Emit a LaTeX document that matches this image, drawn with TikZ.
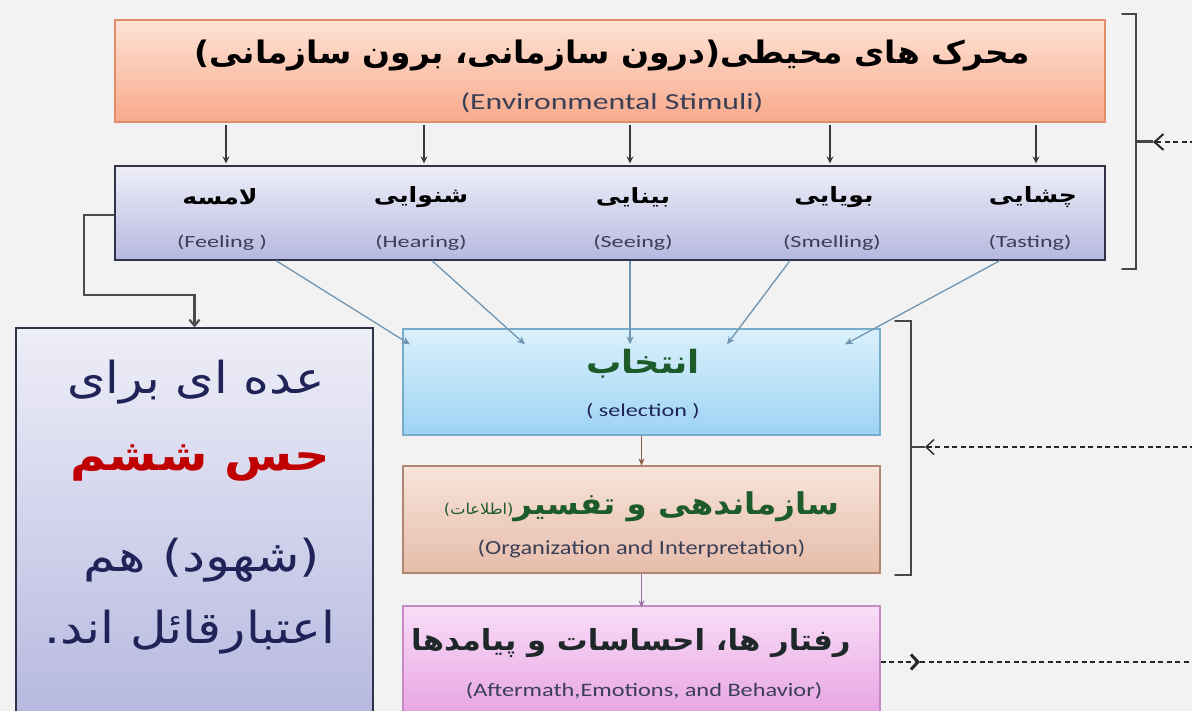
\documentclass[tikz,border=0pt]{standalone}
\usepackage{fontspec}
\usepackage{graphicx}
\setmainfont{Carlito}
\newfontfamily\ar[Script=Arabic]{DejaVu Sans}
\TeXXeTstate=1
\usetikzlibrary{arrows.meta,calc}
\definecolor{bgc}{HTML}{F2F2F2}
\definecolor{greentxt}{HTML}{1D5B2A}
\definecolor{navytxt}{HTML}{1F2357}
\definecolor{redtxt}{HTML}{C00000}
\definecolor{engtxt}{HTML}{3A3F55}
\definecolor{arrgray}{HTML}{3A3A3A}
\definecolor{arrblue}{HTML}{7195B0}
\definecolor{arrbrown}{HTML}{8A5A44}
\definecolor{arrpurple}{HTML}{A070A8}
\newcommand\sx[2]{\scalebox{#1}[1]{#2}}
\tikzset{
  box/.style={rectangle, inner sep=0pt, line width=1.2pt},
  envbox/.style={box, draw={rgb,255:red,228;green,139;blue,104}, top color={rgb,255:red,253;green,227;blue,214}, bottom color={rgb,255:red,248;green,169;blue,139}},
  sensebox/.style={box, draw={rgb,255:red,46;green,51;blue,72}, top color={rgb,255:red,238;green,238;blue,248}, bottom color={rgb,255:red,182;green,184;blue,224}},
  selbox/.style={box, draw={rgb,255:red,121;green,172;blue,203}, top color={rgb,255:red,218;green,241;blue,252}, bottom color={rgb,255:red,158;green,211;blue,244}},
  orgbox/.style={box, draw={rgb,255:red,179;green,133;blue,115}, top color={rgb,255:red,247;green,228;blue,218}, bottom color={rgb,255:red,230;green,188;blue,170}},
  behbox/.style={box, draw={rgb,255:red,197;green,138;blue,198}, top color={rgb,255:red,249;green,221;blue,247}, bottom color={rgb,255:red,231;green,163;blue,227}},
  txt/.style={inner sep=0pt, anchor=center},
  smallarrow/.style={draw=arrgray, line width=1.3pt, -{Stealth[length=7pt,width=7pt]}},
  bluearrow/.style={draw=arrblue, line width=1.3pt, -{Stealth[length=8pt,width=7pt]}},
  brk/.style={draw={rgb,255:red,70;green,70;blue,70}, line width=2pt, line cap=round},
  dsh/.style={draw={rgb,255:red,40;green,40;blue,40}, line width=1.5pt, dash pattern=on 5pt off 3.5pt},
}
\begin{document}
\begin{tikzpicture}[x=1pt,y=-1pt]
\useasboundingbox (0,0) rectangle (1192,711);
\fill[bgc] (0,0) rectangle (1192,711);
\clip (0,0) rectangle (1192,711);

% boxes
\node[envbox, minimum width=990pt, minimum height=102pt] (env) at (610,71) {};
\node[sensebox, minimum width=990pt, minimum height=94pt] (sens) at (610,213) {};
\node[sensebox, minimum width=357pt, minimum height=390pt] (lbox) at (194.5,523) {};
\node[selbox, minimum width=477pt, minimum height=106pt] (sel) at (641.5,382) {};
\node[orgbox, minimum width=477pt, minimum height=107pt] (org) at (641.5,519.5) {};
\node[behbox, minimum width=477pt, minimum height=112pt] (beh) at (641.5,662) {};

% texts in top box
\node[txt] (envar) at (612,56) {\sx{1.06}{\ar\bfseries\fontsize{31}{36}\selectfont\beginR محرک های محیطی(درون سازمانی، برون سازمانی)\endR}};
\node[txt, text=engtxt] (enven) at (612,103) {\sx{1.38}{\fontsize{23}{27}\selectfont (Environmental Stimuli)}};

% senses
\node[txt] (s1) at (220,197) {\sx{1.2}{\ar\bfseries\fontsize{21}{25}\selectfont\beginR لامسه\endR}};
\node[txt] (s2) at (421,197) {\sx{1.2}{\ar\bfseries\fontsize{21}{25}\selectfont\beginR شنوایی\endR}};
\node[txt] (s3) at (633,197) {\sx{1.2}{\ar\bfseries\fontsize{21}{25}\selectfont\beginR بینایی\endR}};
\node[txt] (s4) at (834,197) {\sx{1.2}{\ar\bfseries\fontsize{21}{25}\selectfont\beginR بویایی\endR}};
\node[txt] (s5) at (1033,197) {\sx{1.2}{\ar\bfseries\fontsize{21}{25}\selectfont\beginR چشایی\endR}};
\node[txt, text=engtxt] (e1) at (222,243) {\sx{1.42}{\fontsize{17}{20}\selectfont (Feeling )}};
\node[txt, text=engtxt] (e2) at (421,243) {\sx{1.42}{\fontsize{17}{20}\selectfont (Hearing)}};
\node[txt, text=engtxt] (e3) at (633,243) {\sx{1.42}{\fontsize{17}{20}\selectfont (Seeing)}};
\node[txt, text=engtxt] (e4) at (832,243) {\sx{1.42}{\fontsize{17}{20}\selectfont (Smelling)}};
\node[txt, text=engtxt] (e5) at (1030,243) {\sx{1.42}{\fontsize{17}{20}\selectfont (Tasting)}};

% selection / organization / behavior texts
\node[txt, text=greentxt] (selar) at (643,364) {\sx{1.1}{\ar\bfseries\fontsize{32}{37}\selectfont\beginR انتخاب\endR}};
\node[txt, text=navytxt] (selen) at (643,411) {\sx{1.34}{\fontsize{18}{21}\selectfont ( selection )}};
\node[txt, text=greentxt] (orgar) at (641.5,507) {\sx{1.08}{\ar\beginR{\bfseries\fontsize{30}{35}\selectfont سازماندهی و تفسیر}{\fontsize{15}{18}\selectfont (اطلاعات)}\endR}};
\node[txt, text=engtxt] (orgen) at (641.5,549) {\sx{1.22}{\fontsize{20}{24}\selectfont (Organization and Interpretation)}};
\node[txt, text={rgb,255:red,30;green,40;blue,40}] (behar) at (631,643) {\sx{1.06}{\ar\bfseries\fontsize{29}{34}\selectfont\beginR رفتار ها، احساسات و پیامدها\endR}};
\node[txt, text=engtxt] (behen) at (644,691) {\sx{1.28}{\fontsize{19}{23}\selectfont (Aftermath,Emotions, and Behavior)}};

% left box text
\node[txt, text=navytxt] (lb1) at (196,382) {\sx{1.12}{\ar\fontsize{44}{52}\selectfont\beginR عده ای برای\endR}};
\node[txt, text=redtxt] (lb2) at (200,463) {\sx{1.12}{\ar\bfseries\fontsize{44}{52}\selectfont\beginR حس ششم\endR}};
\node[txt, text=navytxt] (lb3) at (202,560) {\sx{1.18}{\ar\fontsize{44}{52}\selectfont\beginR (شهود) هم\endR}};
\node[txt, text=navytxt] (lb4) at (190,632) {\sx{1.14}{\ar\fontsize{44}{52}\selectfont\beginR اعتبارقائل اند.\endR}};

% small arrows from env to senses
\foreach \s/\xx in {s1/226,s2/424,s3/630,s4/830,s5/1036}{
  \draw[smallarrow] ([xshift=\xx pt-610pt,yshift=-2pt]env.south) -- ([xshift=\xx pt-610pt,yshift=2pt]sens.north);
}

% blue arrows from senses to selection
\draw[bluearrow] ([xshift=-334pt]sens.south) -- ([xshift=-231.5pt,yshift=-16pt]sel.north);
\draw[bluearrow] ([xshift=-178pt]sens.south) -- ([xshift=-116.5pt,yshift=-16pt]sel.north);
\draw[bluearrow] ([xshift=20pt]sens.south) -- ([xshift=-11.5pt,yshift=-16pt]sel.north);
\draw[bluearrow] ([xshift=180pt]sens.south) -- ([xshift=85.5pt,yshift=-16pt]sel.north);
\draw[bluearrow] ([xshift=390pt]sens.south) -- ([xshift=203.5pt,yshift=-16pt]sel.north);

% selection -> organization -> behavior
\draw[draw=arrbrown, line width=1.5pt, -{Stealth[length=7pt,width=6pt]}] (sel.south) -- (org.north);
\draw[draw=arrpurple, line width=1.5pt, -{Stealth[length=7pt,width=6pt]}] (org.south) -- ([yshift=-2pt]beh.north);

% elbow connector to left box
\coordinate (bend) at (84,295);
\draw[draw={rgb,255:red,75;green,75;blue,75}, line width=2.2pt, -{Straight Barb[length=6pt,width=10pt]}] ([yshift=-2pt]sens.west) -| (bend) -| (lbox.north);

% bracket 1
\draw[brk] (1122,14) -- (1136,14) -- (1136,269) -- (1122,269);
\coordinate (bm1) at (1136,142);
\coordinate (bt1) at (1153,142);
\coordinate (be1) at (1195,142);
\draw[dsh, -{Straight Barb[length=9pt,width=16pt,line width=2pt]}] (be1) -- (bt1);
\draw[brk, line cap=butt, line width=3pt] (bt1) -- (bm1);

% bracket 2
\draw[brk] (895,321) -- (911,321) -- (911,575) -- (895,575);
\coordinate (bm2) at (911,447);
\coordinate (bt2) at (925,447);
\coordinate (be2) at (1195,447);
\draw[dsh, -{Straight Barb[length=8pt,width=15pt,line width=1.4pt]}] (be2) -- (bt2);
\draw[brk, line cap=butt, line width=1.6pt] (bt2) -- (bm2);

% behaviour dashed arrow
\coordinate (bh1) at (920,662);
\coordinate (bh2) at (1195,662);
\draw[dsh, -{Straight Barb[length=7pt,width=15pt,line width=3pt]}] (beh.east) -- (bh1);
\draw[dsh] (bh1) -- (bh2);
\end{tikzpicture}
\end{document}
